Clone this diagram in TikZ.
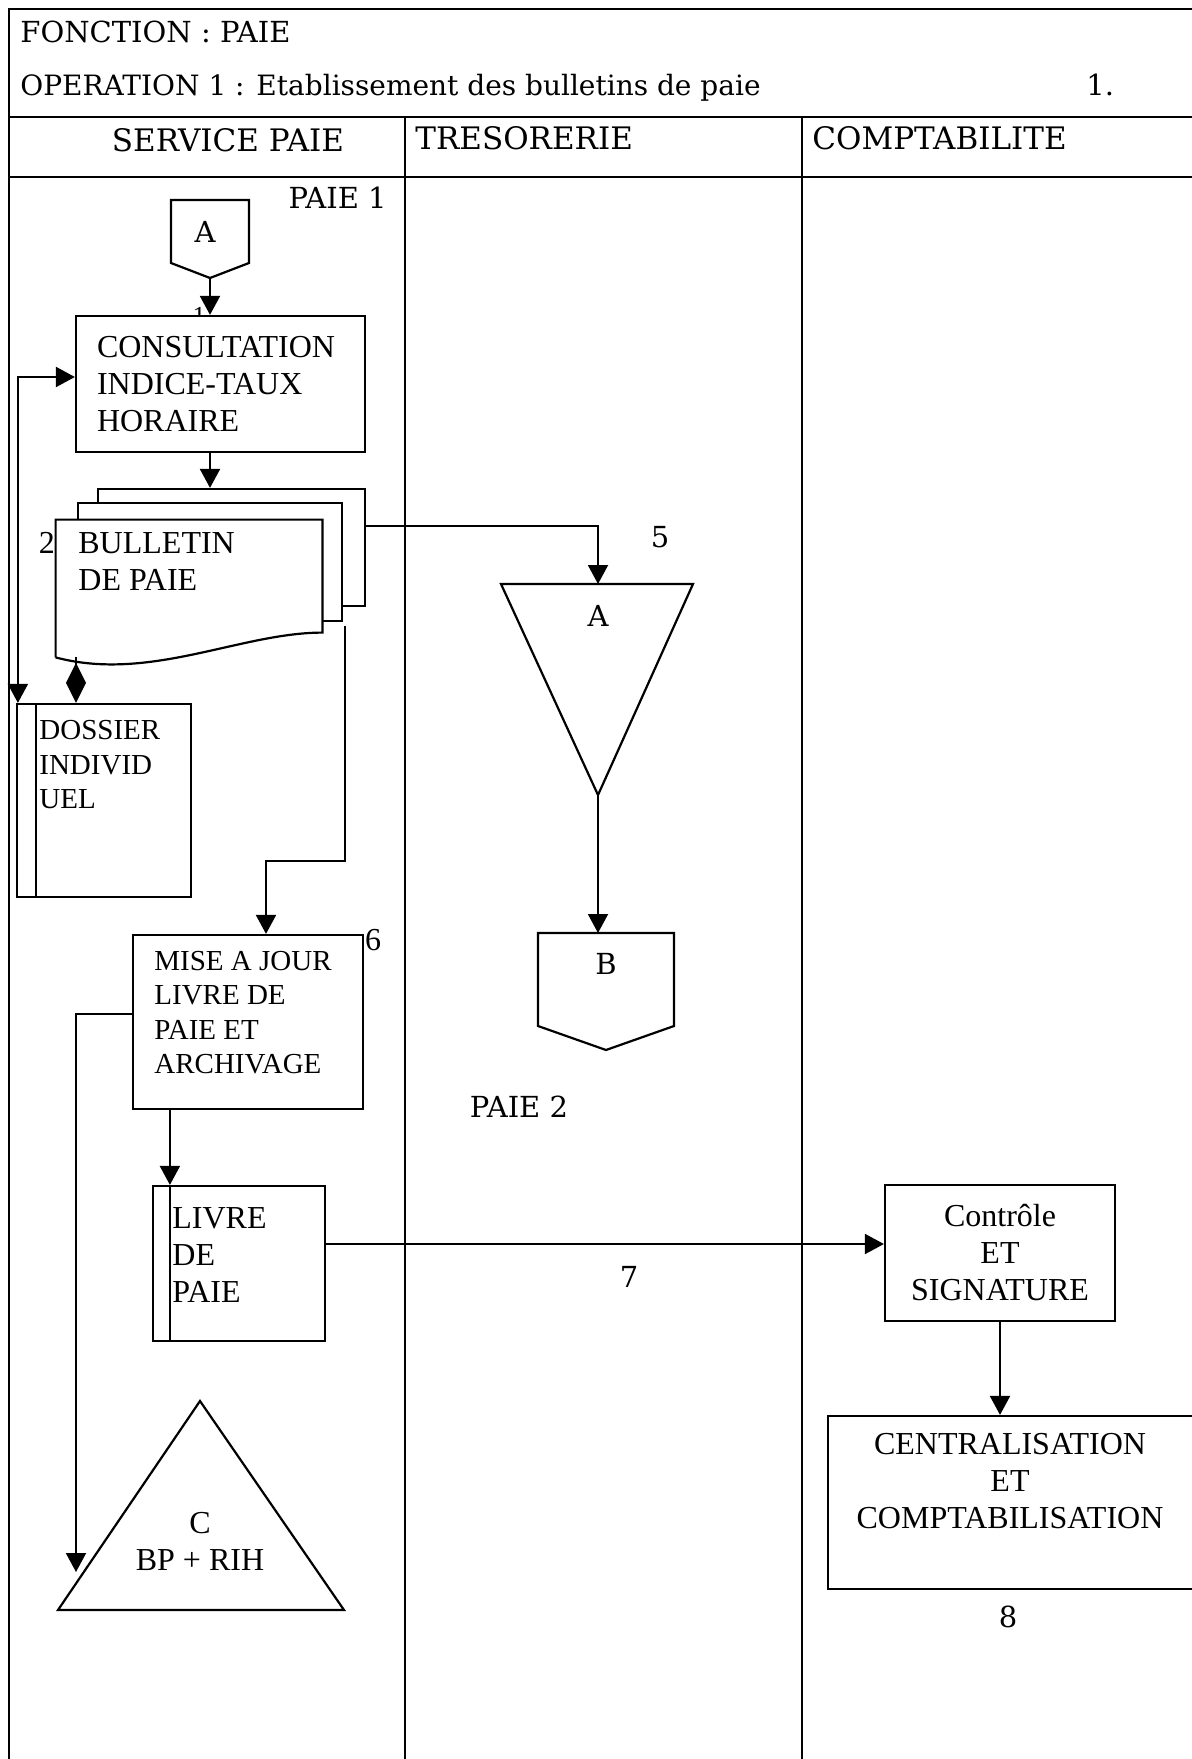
\documentclass[tikz,border=0pt]{standalone}
\usepackage{fontspec}
\setmainfont{Liberation Serif}
\newfontfamily\schfont{DejaVu Serif}
\usetikzlibrary{arrows.meta}

\begin{document}
\begin{tikzpicture}[
	x=0.5pt, y=-0.5pt,
	lane/.style={line width=0.8pt},
	box/.style={draw, line width=1.1pt, fill=white, inner sep=0pt},
	outline/.style={draw, line width=1.1pt, fill=white},
	link/.style={line width=1pt, -{Triangle[length=9.5pt, width=10pt]}},
	twoway/.style={line width=1pt, {Triangle[length=9.5pt, width=10pt]}-{Triangle[length=9.5pt, width=10pt]}},
	diam/.style={line width=1pt, -{Diamond[length=20pt, width=10pt]}},
	head/.style={font=\schfont\fontsize{14.5pt}{17pt}\selectfont, inner sep=0pt},
	lanehead/.style={font=\schfont\fontsize{15.5pt}{18pt}\selectfont, inner sep=0pt},
	txt/.style={font=\fontsize{16pt}{18.5pt}\selectfont, inner sep=0pt},
	smalltxt/.style={font=\fontsize{14.5pt}{17.25pt}\selectfont, inner sep=0pt}
	]
	\useasboundingbox (0,0) rectangle (1192,1759);
	
	% Frame and swimlanes
	\draw[lane] (9,1759) -- (9,9) -- (1192,9);
	\draw[lane] (9,117) -- (1192,117);
	\draw[lane] (9,177) -- (1192,177);
	\draw[lane] (405,117) -- (405,1759);
	\draw[lane] (802,117) -- (802,1759);
	
	% Titles
	\node[head, anchor=base west] (fonction) at (20,43) {FONCTION : PAIE};
	\node[head, font=\schfont\fontsize{14pt}{17pt}\selectfont, anchor=base west] (operation) at (20,96) {OPERATION 1 : Etablissement des bulletins de paie};
	\node[head, anchor=base west] (pagenum) at (1086,96) {1.};
	\node[lanehead, anchor=base] (svcpaie) at (228,152) {SERVICE PAIE};
	\node[lanehead, anchor=base west] (tresor) at (415,150) {TRESORERIE};
	\node[lanehead, anchor=base west] (compta) at (812,150) {COMPTABILITE};
	
	% Service paie
	\node[head, anchor=base east] (paie1) at (387,209) {PAIE 1};
	\draw[outline] (171,200) -- (249,200) -- (249,263) -- (210,278) -- (171,263) -- cycle;
	\node[head] (offA) at (205,232) {A};
	\coordinate (offAtip) at (210,278);
	
	\node[txt, font=\fontsize{13pt}{15pt}\selectfont] (num1) at (199,316) {1};
	\node[box, txt, minimum width=144.5pt, minimum height=68pt, text width=123.5pt, align=left] (cons) at (220.5,384) {CONSULTATION\\INDICE-TAUX\\HORAIRE};
	
	% Bulletin de paie (three copies)
	\node[box, minimum width=133.5pt, minimum height=58.5pt] (bulback) at (231.5,547.5) {};
	\node[box, minimum width=132pt, minimum height=59pt] (bulmid) at (210,562) {};
	\node[inner sep=0pt, minimum width=133pt, minimum height=68.5pt] (bulfront) at (189,588.5) {};
	\draw[outline] (bulfront.south west) -- (bulfront.north west) -- (bulfront.north east) -- ++(0,113)
		.. controls +(-82,0) and +(94,25) .. (bulfront.south west);
	\node[txt, anchor=west, align=left] (bultext) at (78,561.5) {BULLETIN\\DE PAIE};
	\node[txt] (num2) at (47,543) {2};
	
	% Dossier individuel
	\node[box, minimum width=87pt, minimum height=96.5pt] (dos) at (104,800.5) {};
	\draw[line width=1.1pt] ([xshift=10pt]dos.north west) -- ([xshift=10pt]dos.south west);
	\node[smalltxt, anchor=west, align=left] (dostext) at (39,765) {DOSSIER\\INDIVID\\UEL};
	\coordinate (dosjoin) at ([xshift=-14pt]dos.north);
	
	% Mise a jour
	\node[box, minimum width=115pt, minimum height=87pt] (mise) at (248,1022) {};
	\node[smalltxt, anchor=west, align=left] (misetext) at (154,1012.5) {MISE A JOUR\\LIVRE DE\\PAIE ET\\ARCHIVAGE};
	\node[txt] (num6) at (373,940) {6};
	
	% Livre de paie
	\node[box, minimum width=86pt, minimum height=77.5pt] (livre) at (239,1263.5) {};
	\coordinate (livbar) at ([xshift=9pt]livre.north west);
	\draw[line width=1.1pt] (livbar) -- (livbar |- livre.south);
	\node[txt, anchor=west, align=left] (livtext) at (172,1255) {LIVRE\\DE\\PAIE};
	
	% Classement C
	\draw[outline] (200,1401) -- (344,1610) -- (58,1610) -- cycle;
	\node[txt, align=center] (triC) at (200,1541) {C\\BP + RIH};
	\coordinate (triCin) at (76,1572);
	
	% Tresorerie
	\draw[outline] (501,584) -- (693,584) -- (598,795) -- cycle;
	\node[head] (triA) at (598,616) {A};
	\coordinate (triAtop) at (598,584);
	\coordinate (triAapex) at (598,795);
	\node[head] (num5) at (660,537) {5};
	
	\draw[outline] (538,933) -- (674,933) -- (674,1026) -- (606,1050) -- (538,1026) -- cycle;
	\node[head] (offB) at (606,964) {B};
	\coordinate (offBtop) at (606,933);
	\node[head] (paie2) at (519,1107) {PAIE 2};
	\node[head] (num7) at (629,1277) {7};
	
	% Comptabilite
	\node[box, txt, minimum width=115pt, minimum height=68pt, align=center] (ctrl) at (1000,1253) {Contrôle\\ET\\SIGNATURE};
	\node[box, minimum width=184pt, minimum height=86.5pt] (centr) at (1012,1502.5) {};
	\node[txt, align=center] (centrtext) at (1010,1481.5) {CENTRALISATION\\ET\\COMPTABILISATION};
	\node[head] (num8) at (1008,1617) {8};
	
	% Connectors
	\draw[link] (offAtip) -- (offAtip |- cons.north);
	\draw[link] (cons.south -| offAtip) -- (bulback.north -| offAtip);
	\draw[twoway] ([yshift=3.5pt]cons.west) -| ([xshift=1pt]dos.north west);
	\draw[diam] (bulfront.south -| dosjoin) -- (dosjoin);
	\draw[link] ([yshift=-19pt]bulback.north east) -| (triAtop);
	\draw[link] (triAapex) -- (triAapex |- offBtop);
	\draw[link] ([shift={(1pt,-2pt)}]bulmid.south east) -- ++(0,235) -| ([xshift=9pt]mise.north);
	\draw[link] ([yshift=4pt]mise.west) -| (triCin);
	\draw[link] (mise.south -| livbar) -- (livbar);
	\draw[link] ([yshift=9.75pt]livre.east) -- ([yshift=4.5pt]ctrl.west);
	\draw[link] (ctrl.south) -- (ctrl.south |- centr.north);
\end{tikzpicture}
\end{document}
